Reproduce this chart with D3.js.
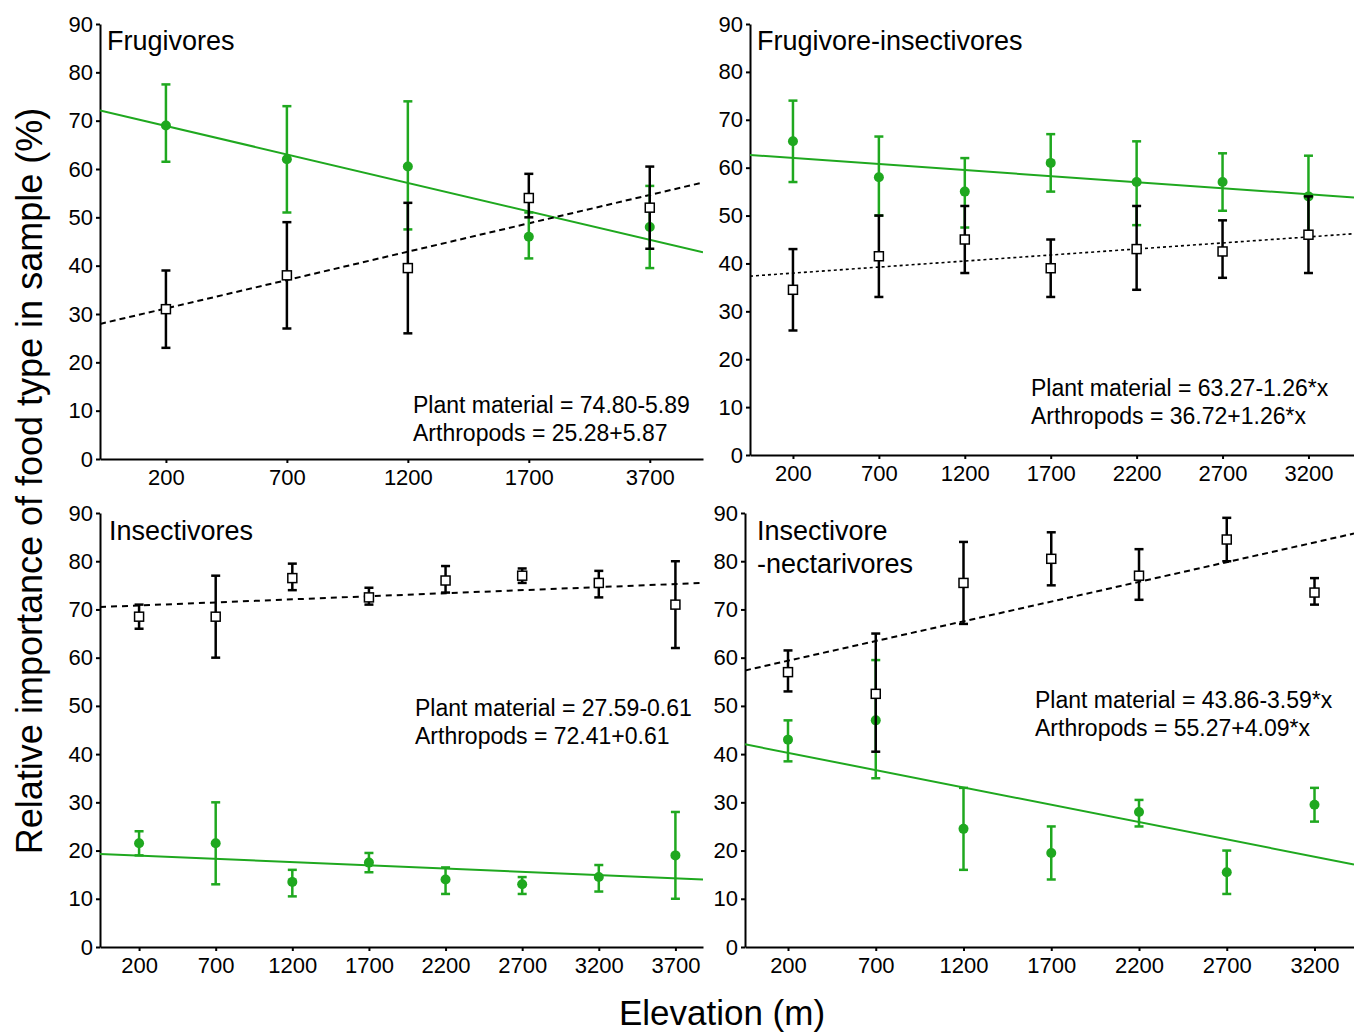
<!DOCTYPE html>
<html>
<head>
<meta charset="utf-8">
<script src="https://cdn.jsdelivr.net/npm/d3@7"></script>
<style>
  body { margin: 0; background: #fff; }
  svg { font-family: "Liberation Sans", Arial, sans-serif; }
  .axis path, .axis line { stroke: #000; stroke-width: 2; }
  .axis text { font-size: 22px; fill: #000; }
</style>
</head>
<body>
<script>

// --- data ------------------------------------------------------------------
var panelTitles = [["Frugivores"], ["Frugivore-insectivores"], ["Insectivores"], ["Insectivore", "-nectarivores"]];

var elevations = [
    ["200", "700", "1200", "1700", "3700"],
    ["200", "700", "1200", "1700", "2200", "2700", "3200"],
    ["200", "700", "1200", "1700", "2200", "2700", "3200", "3700"],
    ["200", "700", "1200", "1700", "2200", "2700", "3200"]
];

var yTicks = [0, 10, 20, 30, 40, 50, 60, 70, 80, 90];

// plant material: mean, lower, upper
var plantMean = [
    [69, 62, 60.5, 46, 48],
    [65.5, 58, 55, 61, 57, 57, 54],
    [21.5, 21.5, 13.5, 17.5, 14, 13, 14.5, 19],
    [43, 47, 24.5, 19.5, 28, 15.5, 29.5]
];
var plantLow = [
    [61.5, 51, 47.5, 41.5, 39.5],
    [57, 50, 47.5, 55, 48, 51, 46],
    [19, 13, 10.5, 15.5, 11, 11, 11.5, 10],
    [38.5, 35, 16, 14, 25, 11, 26]
];
var plantHigh = [
    [77.5, 73, 74, 51, 56.5],
    [74, 66.5, 62, 67, 65.5, 63, 62.5],
    [24, 30, 16, 19.5, 16.5, 14.5, 17, 28],
    [47, 59.5, 33, 25, 30.5, 20, 33]
];

// arthropods: mean, lower, upper
var arthMean = [
    [31, 38, 39.5, 54, 52],
    [34.5, 41.5, 45, 39, 43, 42.5, 46],
    [68.5, 68.5, 76.5, 72.5, 76, 77, 75.5, 71],
    [57, 52.5, 75.5, 80.5, 77, 84.5, 73.5]
];
var arthLow = [
    [23, 27, 26, 50, 43.5],
    [26, 33, 38, 33, 34.5, 37, 38],
    [66, 60, 74, 71, 73.5, 75.5, 72.5, 62],
    [53, 40.5, 67, 75, 72, 80, 71]
];
var arthHigh = [
    [39, 49, 53, 59, 60.5],
    [43, 50, 52, 45, 52, 49, 54],
    [71, 77, 79.5, 74.5, 79, 78.5, 78, 80],
    [61.5, 65, 84, 86, 82.5, 89, 76.5]
];

// fitted lines as drawn, y = a + b*x with x = 1,2,3... per elevation class
var plantFit = [[74.80, -5.89], [63.27, -1.26], [19.63, -0.673], [43.86, -3.59]];
var arthFit = [[25.28, 5.87], [36.72, 1.26], [70.19, 0.635], [55.27, 4.09]];

var equations = [
    ["Plant material = 74.80-5.89", "Arthropods = 25.28+5.87"],
    ["Plant material = 63.27-1.26*x", "Arthropods = 36.72+1.26*x"],
    ["Plant material = 27.59-0.61", "Arthropods = 72.41+0.61"],
    ["Plant material = 43.86-3.59*x", "Arthropods = 55.27+4.09*x"]
];

// --- layout -----------------------------------------------------------------
var panels = [
    {left: 100, right: 703, top: 24, bottom: 459, lo: -0.545, hi: 4.44, dash: "6,4", eqX: 413, eqY: 413, titleX: 107, titleY: 50},
    {left: 750, right: 1354, top: 24, bottom: 455, lo: -0.5, hi: 6.53, dash: "3,3", eqX: 1031, eqY: 396, titleX: 757, titleY: 50},
    {left: 100, right: 703, top: 513, bottom: 947, lo: -0.51, hi: 7.36, dash: "6,5", eqX: 415, eqY: 716, titleX: 109, titleY: 540},
    {left: 745, right: 1354, top: 513, bottom: 947, lo: -0.49, hi: 6.45, dash: "6,4", eqX: 1035, eqY: 708, titleX: 757, titleY: 540}
];

var green = "#1fa81f";

var svg = d3.select("body").append("svg")
    .attr("width", 1354)
    .attr("height", 1035);

panels.forEach(function(p, k) {
    var n = elevations[k].length;
    var x = d3.scaleLinear().domain([p.lo, p.hi]).range([p.left, p.right]);
    var y = d3.scaleLinear().domain([0, 90]).range([p.bottom, p.top]);
    var g = svg.append("g").attr("class", "panel");

    // axes
    g.append("g")
        .attr("class", "axis")
        .attr("transform", "translate(" + p.left + ",0)")
        .call(d3.axisLeft(y).tickValues(yTicks).tickSize(4).tickPadding(3).tickSizeOuter(0));
    g.append("g")
        .attr("class", "axis")
        .attr("transform", "translate(0," + p.bottom + ")")
        .call(d3.axisBottom(x).tickValues(d3.range(n))
            .tickFormat(function(i) { return elevations[k][i]; })
            .tickSize(4).tickPadding(6).tickSizeOuter(0));

    var clip = "clip" + k;
    g.append("clipPath").attr("id", clip)
        .append("rect")
            .attr("x", p.left).attr("y", p.top)
            .attr("width", p.right - p.left).attr("height", p.bottom - p.top);

    // regression lines, x = class number (1..n)
    var fitLine = function(f) {
        return d3.line()
            .x(function(d) { return x(d); })
            .y(function(d) { return y(f[0] + f[1] * (d + 1)); })([p.lo, p.hi]);
    };
    g.append("path")
        .attr("d", fitLine(plantFit[k]))
        .attr("clip-path", "url(#" + clip + ")")
        .attr("fill", "none")
        .attr("stroke", green)
        .attr("stroke-width", 2);
    g.append("path")
        .attr("d", fitLine(arthFit[k]))
        .attr("clip-path", "url(#" + clip + ")")
        .attr("fill", "none")
        .attr("stroke", "#000")
        .attr("stroke-width", p.dash == "3,3" ? 1.6 : 2)
        .attr("stroke-dasharray", p.dash);

    // error bars + markers
    var series = [
        {mean: plantMean[k], lo: plantLow[k], hi: plantHigh[k], color: green, shape: "dot"},
        {mean: arthMean[k], lo: arthLow[k], hi: arthHigh[k], color: "#000", shape: "square"}
    ];
    series.forEach(function(s) {
        var idx = d3.range(n);
        var eb = g.append("g").selectAll("g").data(idx).enter().append("g");
        eb.append("line")
            .attr("x1", function(i) { return x(i); })
            .attr("x2", function(i) { return x(i); })
            .attr("y1", function(i) { return y(s.lo[i]); })
            .attr("y2", function(i) { return y(s.hi[i]); })
            .attr("stroke", s.color).attr("stroke-width", 2.5);
        [s.lo, s.hi].forEach(function(v) {
            eb.append("line")
                .attr("x1", function(i) { return x(i) - 4.5; })
                .attr("x2", function(i) { return x(i) + 4.5; })
                .attr("y1", function(i) { return y(v[i]); })
                .attr("y2", function(i) { return y(v[i]); })
                .attr("stroke", s.color).attr("stroke-width", 2.5);
        });
        if (s.shape == "dot") {
            eb.append("circle")
                .attr("cx", function(i) { return x(i); })
                .attr("cy", function(i) { return y(s.mean[i]); })
                .attr("r", 5)
                .attr("fill", s.color);
        } else {
            eb.append("rect")
                .attr("x", function(i) { return x(i) - 4.5; })
                .attr("y", function(i) { return y(s.mean[i]) - 4.5; })
                .attr("width", 9).attr("height", 9)
                .attr("fill", "#fff")
                .attr("stroke", "#000").attr("stroke-width", 1.5);
        }
    });

    // panel title
    g.append("text")
        .attr("x", p.titleX).attr("y", p.titleY)
        .attr("font-size", 27)
        .selectAll("tspan").data(panelTitles[k]).enter().append("tspan")
            .attr("x", p.titleX)
            .attr("dy", function(d, i) { return i == 0 ? 0 : 33; })
            .text(function(d) { return d; });

    // equations
    g.append("text")
        .attr("x", p.eqX).attr("y", p.eqY)
        .attr("font-size", 23)
        .selectAll("tspan").data(equations[k]).enter().append("tspan")
            .attr("x", p.eqX)
            .attr("dy", function(d, i) { return i == 0 ? 0 : 28; })
            .text(function(d) { return d; });
});

// shared axis titles
svg.append("text")
    .attr("transform", "translate(42,481) rotate(-90)")
    .attr("text-anchor", "middle")
    .attr("font-size", 36)
    .text("Relative importance of food type in sample (%)");

svg.append("text")
    .attr("x", 722).attr("y", 1025)
    .attr("text-anchor", "middle")
    .attr("font-size", 35)
    .text("Elevation (m)");

</script>
</body>
</html>
